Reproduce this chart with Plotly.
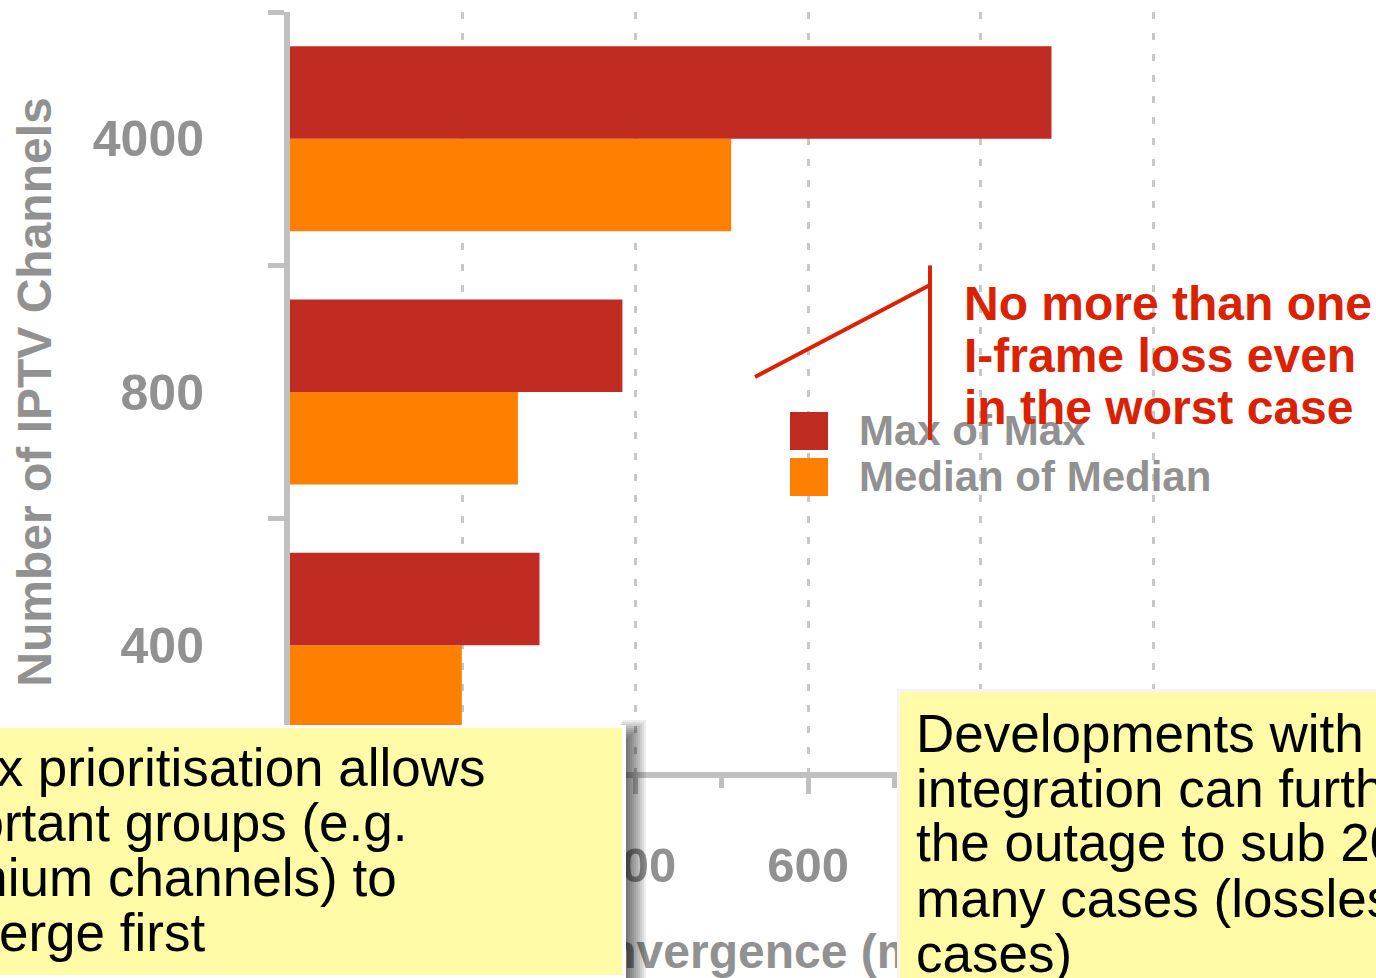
import plotly.graph_objects as go

# data
channels = ["400", "800", "4000"]
max_of_max = [289, 385, 882]
median_of_median = [199, 264, 511]
x_ticks = [0, 200, 400, 600, 800, 1000]

left_box_lines = ["Flex prioritisation allows", "important groups (e.g.",
                  "premium channels) to", "converge first"]
right_box_lines = ["Developments with", "integration can further",
                   "the outage to sub 200ms in", "many cases (lossless in some",
                   "cases)"]
callout_lines = ["No more than one", "I-frame loss even", "in the worst case"]

FONT = "Liberation Sans"
GRAY = "#919191"
AXIS = "#C0C0C0"
RED_BAR = "#C12C22"
ORANGE = "#FF7F00"
RED_TXT = "#DA2100"
YELLOW = "#FFFBA6"

# plot area in pixels (x: 0.8632 px per ms)
L, T, B = 290, 12, 772
X_MAX = 1010
R = L + round(X_MAX * 0.8632)


def px(x):
    return (x - L) / (R - L)


def py(y):
    return (B - y) / (B - T)


def box(x0, y0, x1, y1, color):
    # plain filled rectangle drawn as an annotation so it sits over the axis title
    return dict(xref="paper", yref="paper", x=px(x0), y=py(y0),
                xanchor="left", yanchor="top", width=x1 - x0, height=y1 - y0,
                text=" ", bgcolor=color, borderpad=0, borderwidth=0,
                showarrow=False)


fig = go.Figure()
fig.add_trace(go.Bar(y=channels, x=median_of_median, orientation="h",
                     name="Median of Median", marker=dict(color=ORANGE, line=dict(width=0))))
fig.add_trace(go.Bar(y=channels, x=max_of_max, orientation="h",
                     name="Max of Max", marker=dict(color=RED_BAR, line=dict(width=0))))

annotations = []

# legend (drawn by hand so the swatches can be big)
shapes = []
for (label, color, y0) in [("Max of Max", RED_BAR, 412), ("Median of Median", ORANGE, 458)]:
    shapes.append(dict(type="rect", xref="paper", yref="paper", layer="above",
                       x0=px(790), x1=px(828), y0=py(y0 + 38), y1=py(y0),
                       fillcolor=color, line=dict(width=0)))
    annotations.append(dict(xref="paper", yref="paper", x=px(858), y=py(y0 + 18),
                            xanchor="left", yanchor="middle", showarrow=False,
                            text=label, borderpad=0,
                            font=dict(family=FONT, size=42, color=GRAY, weight="bold")))

# red callout
for i, line in enumerate(callout_lines):
    annotations.append(dict(xref="paper", yref="paper", x=px(963), y=py(303 + 52 * i),
                            xanchor="left", yanchor="middle", showarrow=False,
                            text=line, borderpad=0,
                            font=dict(family=FONT, size=48, color=RED_TXT, weight="bold")))
for (hx, hy, ax, ay) in [(930, 440, 0, -175), (755, 377, 175, -92)]:
    annotations.append(dict(xref="paper", yref="paper", x=px(hx), y=py(hy),
                            ax=ax, ay=ay, text="", showarrow=True, arrowhead=0,
                            arrowwidth=4, arrowcolor=RED_TXT, standoff=0,
                            startstandoff=0, borderpad=0))

# left note: blurred shadow on the right, thin white rim, then the yellow box
for d in range(2, 22, 2):
    annotations.append(box(612 + d // 2, 740 - d, 626 + d, 990, "rgba(0,0,0,0.07)"))
annotations.append(box(-130, 725, 626, 978, "white"))
annotations.append(box(-130, 728, 622, 975, YELLOW))
left_ends = [487, 408, 398, 206]
for i, line in enumerate(left_box_lines):
    annotations.append(dict(xref="paper", yref="paper", x=px(left_ends[i]), y=py(767 + 55 * i),
                            xanchor="right", yanchor="middle", showarrow=False,
                            text=line, borderpad=0,
                            font=dict(family=FONT, size=53, color="black")))

# right note
annotations.append(box(897, 689, 1420, 995, "#F4F4F4"))
annotations.append(box(900, 692, 1420, 995, YELLOW))
for i, line in enumerate(right_box_lines):
    annotations.append(dict(xref="paper", yref="paper", x=px(915), y=py(733 + 55 * i),
                            xanchor="left", yanchor="middle", showarrow=False,
                            text=line, borderpad=0,
                            font=dict(family=FONT, size=53, color="black")))

fig.update_layout(
    width=1376, height=978,
    margin=dict(l=L, r=1376 - R, t=T, b=978 - B),
    barmode="group", bargap=0.27, bargroupgap=0,
    showlegend=False,
    plot_bgcolor="white", paper_bgcolor="white",
    font=dict(family=FONT, color=GRAY),
    xaxis=dict(
        range=[0, X_MAX], tickvals=x_ticks, automargin=False,
        showgrid=True, gridcolor="#C8C8C8", gridwidth=3, griddash="7px,14px",
        zeroline=False,
        showline=True, linecolor=AXIS, linewidth=6,
        ticks="outside", ticklen=16, tickwidth=5, tickcolor=AXIS,
        minor=dict(dtick=100, ticks="outside", ticklen=10, tickwidth=5,
                   tickcolor=AXIS, showgrid=False),
        tickfont=dict(family=FONT, size=49, color=GRAY, weight="bold"),
        ticklabelstandoff=29,
        title=dict(text="Reconvergence (ms)", standoff=59,
                   font=dict(family=FONT, size=48, color=GRAY, weight="bold")),
    ),
    yaxis=dict(
        type="category", categoryorder="array", categoryarray=channels,
        automargin=False,
        showgrid=False, zeroline=False,
        showline=True, linecolor=AXIS, linewidth=6,
        ticks="outside", tickson="boundaries", ticklen=16, tickwidth=5, tickcolor=AXIS,
        tickfont=dict(family=FONT, size=50, color=GRAY, weight="bold"),
        ticklabelstandoff=70,
        title=dict(text="Number of IPTV Channels", standoff=28,
                   font=dict(family=FONT, size=48, color=GRAY, weight="bold")),
    ),
    shapes=shapes,
    annotations=annotations,
)

fig.write_html("out.html", config={"displayModeBar": False},
               post_script="document.body.style.margin = '0';")
